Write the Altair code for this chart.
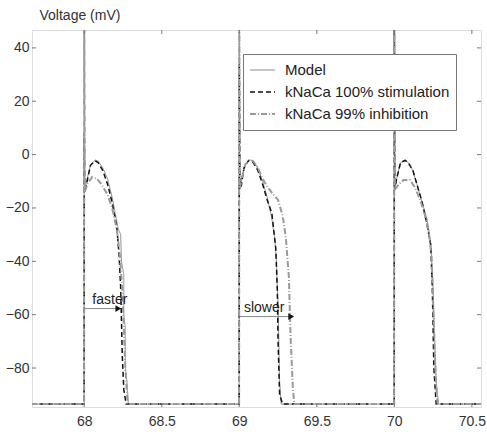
import altair as alt
import pandas as pd

series_names = ["Model", "kNaCa 100% stimulation", "kNaCa 99% inhibition"]

model_t = [67.66, 67.999, 68.0, 68.003, 68.015, 68.04, 68.07, 68.09, 68.12, 68.15, 68.18, 68.20, 68.22, 68.235, 68.24, 68.255, 68.255, 68.265, 68.265, 68.275, 68.285,
           68.999, 69.0, 69.003, 69.015, 69.04, 69.07, 69.09, 69.12, 69.15, 69.18, 69.21, 69.23, 69.24, 69.245, 69.25, 69.255, 69.26, 69.27,
           69.999, 70.0, 70.003, 70.015, 70.04, 70.07, 70.09, 70.12, 70.15, 70.18, 70.21, 70.235, 70.25, 70.26, 70.27, 70.285, 70.57]
model_v = [-93.5, -93.5, 60, -14, -10, -4, -2, -2.5, -5, -9, -16, -22, -28, -30, -40, -45, -60, -65, -80, -85, -93.5,
           -93.5, 60, -13, -9, -3.5, -2, -2.3, -5, -10, -16, -24, -32, -40, -50, -55, -70, -85, -93.5,
           -93.5, 60, -13, -9, -3, -2, -3, -6, -12, -18, -24, -33, -50, -70, -85, -93.5, -93.5]

stim_t = [67.66, 67.999, 68.0, 68.003, 68.015, 68.04, 68.07, 68.09, 68.12, 68.15, 68.18, 68.21, 68.225, 68.235, 68.24, 68.245, 68.255, 68.27,
          68.999, 69.0, 69.004, 69.012, 69.03, 69.06, 69.09, 69.12, 69.15, 69.18, 69.21, 69.235, 69.245, 69.25, 69.26, 69.28,
          69.999, 70.0, 70.003, 70.015, 70.04, 70.07, 70.09, 70.12, 70.15, 70.18, 70.21, 70.235, 70.245, 70.25, 70.255, 70.27, 70.57]
stim_v = [-93.5, -93.5, 8, -14, -11, -4, -2.3, -3, -6, -11, -18, -27, -38, -50, -62, -75, -88, -93.5,
          -93.5, 34, -9, -12, -5, -2.2, -3, -6, -11, -17, -22, -35, -50, -70, -90, -93.5,
          -93.5, 60, -13, -9, -3, -2.2, -3, -6, -12, -18, -26, -34, -50, -65, -80, -93.5, -93.5]

inh_t = [67.66, 67.999, 68.0, 68.004, 68.02, 68.05, 68.08, 68.11, 68.15, 68.18, 68.21, 68.23, 68.245, 68.255, 68.265, 68.28,
         68.999, 69.0, 69.003, 69.015, 69.04, 69.07, 69.09, 69.12, 69.15, 69.18, 69.22, 69.25, 69.28, 69.30, 69.32, 69.33, 69.345, 69.355,
         69.999, 70.0, 70.004, 70.03, 70.06, 70.10, 70.13, 70.16, 70.19, 70.22, 70.24, 70.25, 70.26, 70.27, 70.28, 70.57]
inh_v = [-93.5, -93.5, 60, -14, -11, -8.5, -9, -11, -15, -20, -28, -38, -50, -65, -80, -93.5,
         -93.5, 60, -13, -9, -3.5, -2, -2.5, -5, -9, -12, -15, -17, -23, -31, -46, -67, -87, -93.5,
         -93.5, 60, -13, -11, -9.5, -9.5, -12, -16, -21, -28, -38, -55, -72, -87, -93.5, -93.5]

x_ticks = [68, 68.5, 69, 69.5, 70, 70.5]
y_ticks = [-80, -60, -40, -20, 0, 20, 40]

arrow_labels = ["faster", "slower"]
arrow_start = [68.0, 69.0]
arrow_end = [68.22, 69.335]
arrow_v = [-57.7, -60.7]
label_t = [68.052, 69.03]

rows = []
for name, ts, vs in zip(series_names, [model_t, stim_t, inh_t], [model_v, stim_v, inh_v]):
    for i, (t, v) in enumerate(zip(ts, vs)):
        rows.append({"series": name, "t": t, "v": v, "i": i})
df = pd.DataFrame(rows)

ann = pd.DataFrame({"label": arrow_labels, "t0": arrow_start, "t1": arrow_end, "v": arrow_v, "tl": label_t})
xt = pd.DataFrame({"t": x_ticks})
yt = pd.DataFrame({"v": y_ticks})

FONT = "Liberation Sans"
W, H = 449, 377
xs = alt.Scale(domain=[67.663, 70.559], nice=False, zero=False)
ys = alt.Scale(domain=[-94.6, 46.7], nice=False, zero=False)

leg = alt.Legend(title=None, orient="none", legendX=211, legendY=24, symbolType="stroke",
                 symbolSize=625, clipHeight=20, rowPadding=2, padding=6, labelOffset=9,
                 labelFont=FONT, labelFontSize=15, labelColor="#222", strokeColor="#777",
                 fillColor="white", labelLimit=300,
                 labelExpr="datum.label + '\u00a0\u00a0\u00a0'")

lines = alt.Chart(df).mark_line(clip=True, strokeCap="butt").encode(
    x=alt.X("t:Q", scale=xs, axis=alt.Axis(values=x_ticks, format="~g", title=None, ticks=False, grid=False, domain=False,
                                         labelFont=FONT, labelFontSize=14, labelPadding=7, labelColor="#333",
                                         labelFlush=False)),
    y=alt.Y("v:Q", scale=ys, axis=alt.Axis(values=y_ticks, title="Voltage (mV)", titleAngle=0, titleAlign="left",
                                         titleBaseline="alphabetic", titleX=7, titleY=-11, titleFont=FONT,
                                         titleFontSize=14, titleFontWeight="normal", titleColor="#333",
                                         ticks=False, grid=False, domain=False, labelFont=FONT, labelFontSize=14,
                                         labelPadding=3, labelColor="#333")),
    color=alt.Color("series:N", scale=alt.Scale(domain=series_names, range=["#8c8c8c", "#111111", "#9a9a9a"]), legend=leg),
    strokeDash=alt.StrokeDash("series:N", scale=alt.Scale(domain=series_names, range=[[1, 0], [5, 3], [6, 2, 1, 2]]), legend=leg),
    strokeWidth=alt.StrokeWidth("series:N", scale=alt.Scale(domain=series_names, range=[1, 2, 1]), legend=leg),
    order="i:Q",
)

tick_color = "#777"
xb = alt.Chart(xt).mark_rule(color=tick_color).encode(x=alt.X("t:Q", scale=xs), y=alt.value(H), y2=alt.value(H - 4))
xtop = alt.Chart(xt).mark_rule(color=tick_color).encode(x=alt.X("t:Q", scale=xs), y=alt.value(0), y2=alt.value(4))
yl = alt.Chart(yt).mark_rule(color=tick_color).encode(y=alt.Y("v:Q", scale=ys), x=alt.value(0), x2=alt.value(4))
yr = alt.Chart(yt).mark_rule(color=tick_color).encode(y=alt.Y("v:Q", scale=ys), x=alt.value(W), x2=alt.value(W - 4))

arrow_line = alt.Chart(ann).mark_rule(color="#888", strokeWidth=1).encode(
    x=alt.X("t0:Q", scale=xs), x2="t1:Q", y=alt.Y("v:Q", scale=ys))
arrow_head = alt.Chart(ann).mark_point(shape="triangle-right", filled=True, color="#111", size=45, opacity=1).encode(
    x=alt.X("t1:Q", scale=xs), y=alt.Y("v:Q", scale=ys))
arrow_text = alt.Chart(ann).mark_text(align="left", baseline="bottom", dy=-2, font=FONT, fontSize=14, color="#222").encode(
    x=alt.X("tl:Q", scale=xs), y=alt.Y("v:Q", scale=ys), text="label:N")

chart = alt.layer(lines, xb, xtop, yl, yr, arrow_line, arrow_head, arrow_text).properties(
    width=W, height=H,
    padding={"left": 32, "top": 30, "right": 6, "bottom": 27},
    autosize=alt.AutoSizeParams(type="none"),
).configure_view(stroke="#666", strokeWidth=1).configure(background="white")

chart.save("out.html", embed_options={"renderer": "svg", "actions": False})
